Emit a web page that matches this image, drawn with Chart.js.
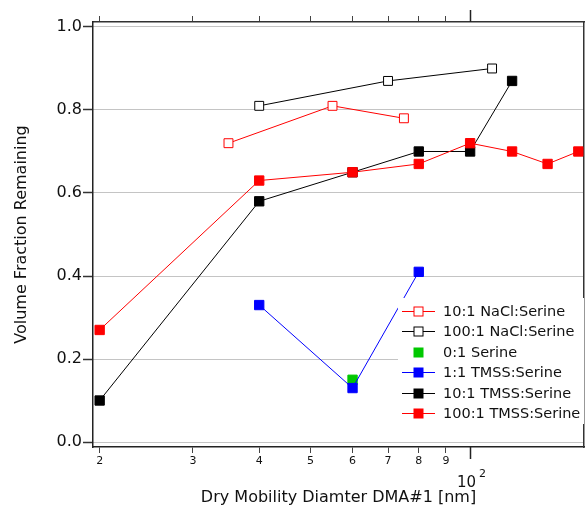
<!DOCTYPE html>
<html>
<head>
<meta charset="utf-8">
<script src="https://cdn.jsdelivr.net/npm/chart.js@4.4.1/dist/chart.umd.min.js"></script>
<style>
  html, body { margin: 0; padding: 0; background: #fff; }
</style>
</head>
<body>
<canvas id="volumeChart" width="585" height="506"></canvas>
<script>
// Dry mobility diameter (nm) and volume fraction remaining, per series
const nacl10X = [35, 55, 75];
const nacl10Y = [0.72, 0.81, 0.78];
const nacl100X = [40, 70, 110];
const nacl100Y = [0.81, 0.87, 0.90];
const serineX = [60];
const serineY = [0.15];
const tmss1X = [40, 60, 80];
const tmss1Y = [0.33, 0.13, 0.41];
const tmss10X = [20, 40, 60, 80, 100, 120];
const tmss10Y = [0.10, 0.58, 0.65, 0.70, 0.70, 0.87];
const tmss100X = [20, 40, 60, 80, 100, 120, 140, 160];
const tmss100Y = [0.27, 0.63, 0.65, 0.67, 0.72, 0.70, 0.67, 0.70];

const xTicks = [20, 30, 40, 50, 60, 70, 80, 90, 100];
const yTicks = [0, 0.2, 0.4, 0.6, 0.8, 1.0];

const FONT = '"DejaVu Sans", Verdana, sans-serif';

function series(label, xs, ys, color, open, order, line) {
  return {
    label: label,
    data: xs.map((x, i) => ({ x: x, y: ys[i] })),
    borderColor: color,
    backgroundColor: color,
    borderWidth: 1,
    showLine: line,
    pointStyle: 'rect',
    pointRadius: open ? 6.3 : 6.6,
    pointHoverRadius: open ? 6.3 : 6.6,
    pointBorderWidth: 1,
    pointBorderColor: color,
    pointBackgroundColor: open ? '#fff' : color,
    isOpen: open,
    order: order,
  };
}

// legend drawn inside the plot, on a white box
const boxLegend = {
  id: 'boxLegend',
  afterDatasetsDraw(chart) {
    const ctx = chart.ctx;
    ctx.save();
    ctx.fillStyle = '#fff';
    ctx.fillRect(398, 298, 186, 126);
    ctx.font = '14.5px ' + FONT;
    ctx.textBaseline = 'middle';
    ctx.textAlign = 'left';
    chart.data.datasets.forEach((ds, i) => {
      const y = Math.round(310.7 + i * 20.5) + 0.5;
      const cx = 418.5;
      if (ds.showLine) {
        ctx.strokeStyle = ds.borderColor;
        ctx.lineWidth = 1;
        ctx.beginPath();
        ctx.moveTo(402, y);
        ctx.lineTo(435, y);
        ctx.stroke();
      }
      if (ds.isOpen) {
        ctx.fillStyle = '#fff';
        ctx.fillRect(cx - 4.5, y - 4.5, 9, 9);
        ctx.strokeStyle = ds.borderColor;
        ctx.strokeRect(cx - 4.5, y - 4.5, 9, 9);
      } else {
        ctx.fillStyle = ds.borderColor;
        ctx.fillRect(cx - 5, y - 5, 10, 10);
      }
      ctx.fillStyle = '#111';
      ctx.fillText(ds.label, 443, y + 0.5);
    });
    ctx.restore();
  }
};

// long major tick at 100 and its "10^2" label
const decadeMark = {
  id: 'decadeMark',
  afterDraw(chart) {
    const ctx = chart.ctx;
    const xs = chart.scales.x;
    const area = chart.chartArea;
    const px = Math.round(xs.getPixelForValue(100)) + 0.5;
    ctx.save();
    ctx.strokeStyle = '#222';
    ctx.lineWidth = 1.5;
    ctx.beginPath();
    ctx.moveTo(px, area.bottom);
    ctx.lineTo(px, area.bottom + 12);
    ctx.moveTo(px, area.top);
    ctx.lineTo(px, area.top - 12);
    ctx.stroke();
    ctx.fillStyle = '#111';
    ctx.textBaseline = 'alphabetic';
    ctx.font = '15px ' + FONT;
    ctx.textAlign = 'right';
    ctx.fillText('10', px + 5.5, 487);
    ctx.font = '11px ' + FONT;
    ctx.textAlign = 'left';
    ctx.fillText('2', px + 8.5, 477);
    ctx.restore();
  }
};

const noPad = (axis) => {
  axis.paddingLeft = 0;
  axis.paddingRight = 0;
};

const ctx = document.getElementById('volumeChart').getContext('2d');

new Chart(ctx, {
  type: 'line',
  data: {
    datasets: [
      series('10:1 NaCl:Serine', nacl10X, nacl10Y, '#ff0000', true, 6, true),
      series('100:1 NaCl:Serine', nacl100X, nacl100Y, '#000000', true, 5, true),
      series('0:1 Serine', serineX, serineY, '#00c800', false, 4, false),
      series('1:1 TMSS:Serine', tmss1X, tmss1Y, '#0000ff', false, 3, true),
      series('10:1 TMSS:Serine', tmss10X, tmss10Y, '#000000', false, 2, true),
      series('100:1 TMSS:Serine', tmss100X, tmss100Y, '#ff0000', false, 1, true),
    ],
  },
  options: {
    responsive: false,
    animation: false,
    layout: { padding: 0, autoPadding: false },
    plugins: {
      legend: { display: false },
      tooltip: { enabled: false },
    },
    scales: {
      x: {
        type: 'logarithmic',
        position: 'bottom',
        min: 19.43,
        max: 164,
        afterBuildTicks: (axis) => { axis.ticks = xTicks.map(v => ({ value: v })); },
        afterFit: (axis) => { axis.height = 59; noPad(axis); },
        grid: { drawOnChartArea: false, drawTicks: true, tickLength: 6, tickColor: '#444', tickWidth: 1 },
        border: { display: true, color: '#222', width: 1.5 },
        ticks: {
          autoSkip: false,
          maxRotation: 0,
          padding: 2,
          color: '#111',
          font: { family: FONT, size: 11 },
          callback: (v) => (v === 100 ? '' : String(Math.round(v / 10))),
        },
        title: {
          display: true,
          text: 'Dry Mobility Diamter DMA#1 [nm]',
          color: '#111',
          font: { family: FONT, size: 16, lineHeight: 1 },
          padding: 0,
        },
      },
      xTop: {
        type: 'logarithmic',
        position: 'top',
        min: 19.43,
        max: 164,
        afterBuildTicks: (axis) => { axis.ticks = xTicks.map(v => ({ value: v })); },
        afterFit: (axis) => { axis.height = 22; noPad(axis); },
        grid: { drawOnChartArea: false, drawTicks: true, tickLength: 6, tickColor: '#444', tickWidth: 1 },
        border: { display: true, color: '#333', width: 1.5 },
        ticks: { display: false },
      },
      y: {
        position: 'left',
        min: -0.012,
        max: 1.012,
        afterBuildTicks: (axis) => { axis.ticks = yTicks.map(v => ({ value: v })); },
        afterFit: (axis) => { axis.width = 93; },
        grid: { color: '#888', lineWidth: 1, tickColor: '#333', tickLength: 10, tickWidth: 1.5, tickBorderDash: [] },
        border: { display: true, color: '#222', width: 1.5, dash: [1, 1] },
        ticks: {
          padding: 1,
          color: '#111',
          font: { family: FONT, size: 16 },
          callback: (v) => v.toFixed(1),
        },
        title: {
          display: true,
          text: 'Volume Fraction Remaining',
          color: '#111',
          font: { family: FONT, size: 16, lineHeight: 1 },
          padding: { top: 14, bottom: 0 },
        },
      },
      yRight: {
        position: 'right',
        min: -0.012,
        max: 1.012,
        afterFit: (axis) => { axis.width = 1; },
        grid: { display: false },
        border: { display: true, color: '#333', width: 1.5 },
        ticks: { display: false },
      },
    },
  },
  plugins: [boxLegend, decadeMark],
});
</script>
</body>
</html>
